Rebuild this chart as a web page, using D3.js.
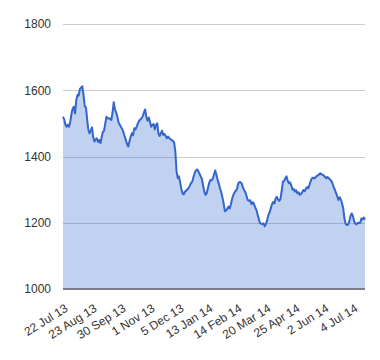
<!DOCTYPE html>
<html>
<head>
<meta charset="utf-8">
<script src="https://cdn.jsdelivr.net/npm/d3@7"></script>
<style>
  html, body { margin: 0; padding: 0; background: #fff; }
  svg { display: block; }
  text { font-family: "Liberation Sans", Arial, sans-serif; }
</style>
</head>
<body>
<div id="chart"></div>
<script>
// Tick labels on the category axis (every 24th trading day)
const tickLabels = ["22 Jul 13","23 Aug 13","30 Sep 13","1 Nov 13","5 Dec 13","13 Jan 14","14 Feb 14","20 Mar 14","25 Apr 14","2 Jun 14","4 Jul 14"];
const tickEvery = 24;
const yTicks = [1000, 1200, 1400, 1600, 1800];

// Daily closing values, 22 Jul 13 onwards
const values = [
1520,1512,1496,1490,1496,1490,1505,1528,1545,1550,
1530,1570,1586,1584,1604,1608,1612,1585,1552,1548,
1512,1480,1470,1478,1488,1458,1445,1452,1455,1444,
1450,1440,1458,1475,1478,1500,1520,1516,1514,1515,
1510,1532,1564,1542,1533,1520,1503,1496,1489,1483,
1474,1461,1450,1438,1430,1445,1460,1470,1464,1485,
1482,1490,1500,1508,1512,1515,1522,1533,1542,1520,
1508,1518,1505,1490,1496,1498,1482,1495,1500,1470,
1462,1470,1478,1465,1468,1462,1455,1460,1455,1452,
1450,1447,1442,1415,1355,1335,1340,1322,1302,1288,
1286,1294,1297,1301,1305,1312,1320,1324,1338,1350,
1358,1361,1356,1348,1340,1332,1312,1294,1284,1290,
1305,1320,1329,1328,1333,1345,1358,1345,1330,1318,
1304,1292,1276,1258,1235,1237,1242,1249,1243,1256,
1272,1284,1291,1296,1302,1318,1323,1322,1318,1306,
1298,1292,1280,1268,1266,1268,1256,1262,1258,1247,
1240,1226,1213,1199,1197,1196,1198,1189,1196,1208,
1223,1231,1244,1256,1263,1258,1273,1278,1270,1266,
1272,1295,1324,1326,1334,1340,1327,1319,1322,1312,
1300,1302,1294,1298,1289,1292,1284,1287,1292,1299,
1295,1302,1308,1304,1314,1325,1334,1336,1334,1337,
1341,1343,1346,1349,1346,1345,1342,1338,1334,1338,
1334,1331,1327,1320,1308,1300,1290,1280,1269,1277,
1270,1258,1243,1212,1196,1193,1194,1205,1220,1228,
1220,1205,1197,1195,1200,1199,1200,1213,1210,1216,
1210
];

const W = 380, H = 360;
const mLeft = 63, mRight = 365, mTop = 24, mBottom = 289;

const svg = d3.select("#chart").append("svg")
  .attr("width", W).attr("height", H);

const x = d3.scaleLinear().domain([0, values.length - 1]).range([mLeft, mRight]);
const y = d3.scaleLinear().domain([1000, 1800]).range([mBottom, mTop]);

// gridlines
const yAxis = d3.axisLeft(y).tickValues(yTicks).tickFormat(d3.format("d"))
  .tickSize(-(mRight - mLeft)).tickPadding(12);
const gy = svg.append("g").attr("transform", `translate(${mLeft},0)`).call(yAxis);
gy.select(".domain").remove();
gy.selectAll(".tick line").attr("stroke", "#cccccc").attr("shape-rendering", "crispEdges");
gy.selectAll(".tick text")
  .attr("fill", "#333").attr("font-size", "12px")
  .attr("font-family", '"Liberation Sans", Arial, sans-serif');

// area
const area = d3.area()
  .x((d, i) => x(i))
  .y0(y(1000))
  .y1(d => y(d));
svg.append("path").datum(values)
  .attr("d", area)
  .attr("fill", "#3366cc").attr("fill-opacity", 0.3);

// baseline
svg.append("line")
  .attr("x1", mLeft).attr("x2", mRight)
  .attr("y1", y(1000)).attr("y2", y(1000))
  .attr("stroke", "#333").attr("stroke-width", 1.2);

// line
const line = d3.line().x((d, i) => x(i)).y(d => y(d));
svg.append("path").datum(values)
  .attr("d", line)
  .attr("fill", "none")
  .attr("stroke", "#3366cc").attr("stroke-width", 2)
  .attr("stroke-linejoin", "round");

// x axis labels (slanted)
const tickIdx = tickLabels.map((_, k) => k * tickEvery);
const xAxis = d3.axisBottom(x).tickValues(tickIdx)
  .tickFormat((d, k) => tickLabels[k]).tickSize(0).tickPadding(0);
const gx = svg.append("g").attr("transform", `translate(0,${mBottom})`).call(xAxis);
gx.select(".domain").remove();
gx.selectAll(".tick text")
  .attr("fill", "#333").attr("font-size", "12px")
  .attr("font-family", '"Liberation Sans", Arial, sans-serif')
  .attr("text-anchor", "end")
  .attr("dy", "0.35em")
  .attr("y", 0)
  .attr("transform", "translate(3,18) rotate(-32)");
</script>
</body>
</html>
